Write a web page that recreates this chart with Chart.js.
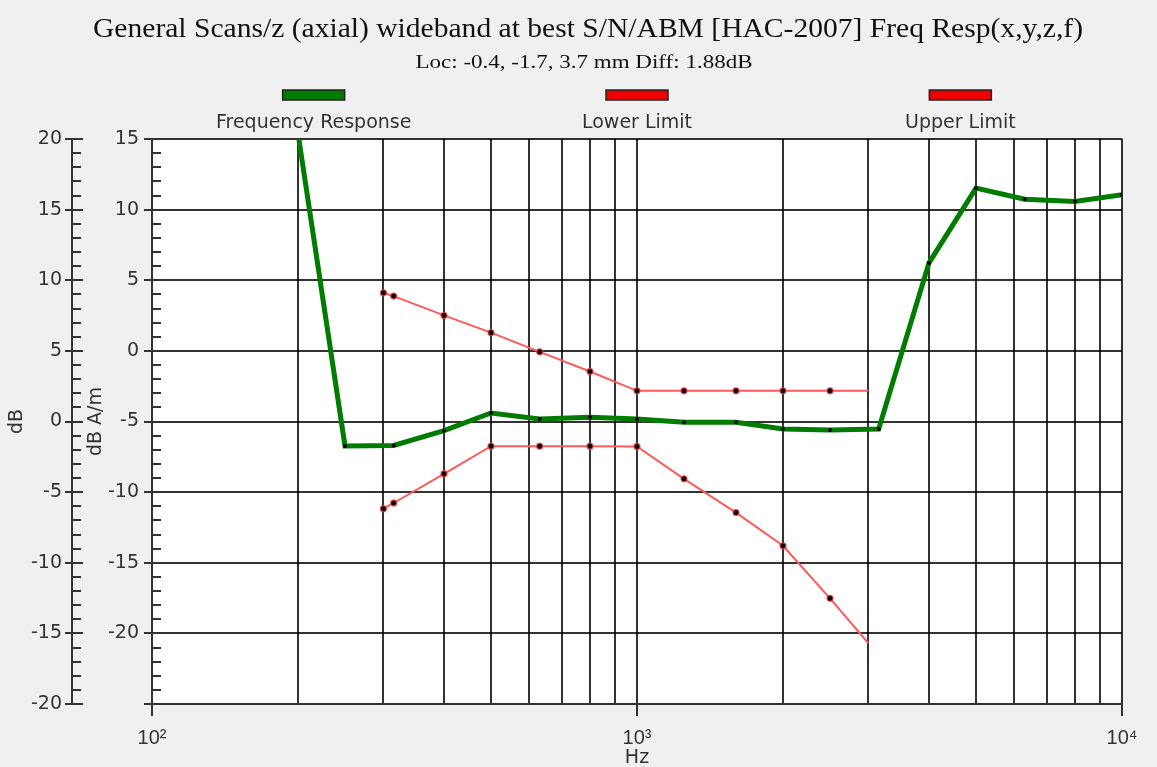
<!DOCTYPE html>
<html>
<head>
<meta charset="utf-8">
<script src="https://cdn.jsdelivr.net/npm/chart.js@4.4.1/dist/chart.umd.min.js"></script>
<style>
html,body{margin:0;padding:0;background:#f0f0f0;overflow:hidden;}
#wrap{width:1157px;height:767px;}
</style>
</head>
<body>
<div id="wrap"><canvas id="c" width="1157" height="767"></canvas></div>
<script>
// ---- data ----
const titleText = 'General Scans/z (axial) wideband at best S/N/ABM [HAC-2007] Freq Resp(x,y,z,f)';
const subtitleText = 'Loc: -0.4, -1.7, 3.7 mm Diff: 1.88dB';
const seriesNames = ['Frequency Response', 'Lower Limit', 'Upper Limit'];
const respFreq = [200, 250, 315, 400, 500, 630, 800, 1000, 1250, 1600, 2000, 2500, 3150, 4000, 5000, 6300, 8000, 10000];
const respDb   = [15.4, -6.73, -6.7, -5.65, -4.4, -4.82, -4.7, -4.82, -5.06, -5.06, -5.53, -5.6, -5.53, 6.23, 11.52, 10.74, 10.58, 11.05];
const limFreq  = [300, 315, 400, 500, 630, 800, 1000, 1250, 1600, 2000, 2500, 3000];
const lowerDb  = [-11.17, -10.77, -8.7, -6.75, -6.75, -6.75, -6.77, -9.06, -11.45, -13.8, -17.52, -20.7];
const upperDb  = [4.11, 3.88, 2.51, 1.29, -0.07, -1.46, -2.83, -2.83, -2.83, -2.83, -2.83, -2.83];
const xTickValues = [100, 200, 300, 400, 500, 600, 700, 800, 900, 1000, 2000, 3000, 4000, 5000, 6000, 7000, 8000, 9000, 10000];
const yInnerTicks = [-25, -20, -15, -10, -5, 0, 5, 10, 15];
const yOuterTicks = [-20, -15, -10, -5, 0, 5, 10, 15, 20];
const xAxisTitle = 'Hz';
const yInnerTitle = 'dB A/m';
const yOuterTitle = 'dB';

// ---- helpers ----
const SUP = {'0':'\u2070','1':'\u00B9','2':'\u00B2','3':'\u00B3','4':'\u2074','5':'\u2075','6':'\u2076','7':'\u2077','8':'\u2078','9':'\u2079'};
function isDecade(v){ const l = Math.log10(v); return Math.abs(l - Math.round(l)) < 1e-9; }
function decadeLabel(v){ const e = String(Math.round(Math.log10(v))); return '10' + e.split('').map(c=>SUP[c]).join(''); }
const AX = '#333333';
const GRID = 'rgba(0,0,0,0.8)';
const SANS = 'DejaVu Sans';
const SERIF = 'Liberation Serif';

Chart.defaults.font.family = SANS;
Chart.defaults.color = '#333';

const bgPlugin = {
  id: 'bgPlugin',
  beforeDraw(chart){
    const {ctx, chartArea:a} = chart;
    ctx.save(); ctx.fillStyle = '#ffffff';
    ctx.fillRect(a.left, a.top, a.right - a.left, a.bottom - a.top);
    ctx.restore();
  }
};

// heading text (title + subtitle), stretched horizontally like the source rendering
function drawStretched(ctx, text, font, cx, baseline, targetW){
  ctx.save();
  ctx.font = font;
  const w = ctx.measureText(text).width;
  const k = targetW / w;
  ctx.translate(cx, baseline);
  ctx.scale(k, 1);
  ctx.textAlign = 'center'; ctx.textBaseline = 'alphabetic';
  ctx.fillStyle = '#111';
  ctx.fillText(text, 0, 0);
  ctx.restore();
}
const heading = {
  id: 'heading',
  afterDraw(chart){
    const ctx = chart.ctx;
    drawStretched(ctx, titleText, '27px "' + SERIF + '"', 588, 37, 990);
    drawStretched(ctx, subtitleText, '19px "' + SERIF + '"', 584, 68, 337);
  }
};

const minorTicks = {
  id: 'minorTicks',
  afterDraw(chart){
    const ctx = chart.ctx;
    ctx.save(); ctx.strokeStyle = AX; ctx.lineWidth = 2;
    ['y','y2'].forEach(id => {
      const s = chart.scales[id];
      const x0 = s.right;
      for (let v = Math.ceil(s.min); v <= s.max; v++) {
        const major = (v % 5 === 0);
        if (major && id === 'y') continue;
        const p = Math.round(s.getPixelForValue(v));
        ctx.beginPath(); ctx.moveTo(x0, p); ctx.lineTo(x0 + (major ? 11 : 9), p); ctx.stroke();
      }
    });
    ctx.restore();
  }
};

const topLegend = {
  id: 'topLegend',
  afterDraw(chart){
    const {ctx, chartArea:a} = chart;
    const n = chart.data.datasets.length;
    const w = (a.right - a.left) / n;
    ctx.save();
    chart.data.datasets.forEach((ds, i) => {
      const cx = a.left + (i + 0.5) * w;
      const by = a.top - 49;
      ctx.fillStyle = ds.legendFill;
      ctx.fillRect(cx - 31, by, 62, 10);
      ctx.strokeStyle = '#222'; ctx.lineWidth = 1.5;
      ctx.strokeRect(cx - 31, by, 62, 10);
      ctx.fillStyle = '#333';
      ctx.font = '19px "' + SANS + '"';
      ctx.textAlign = 'center'; ctx.textBaseline = 'middle';
      ctx.fillText(ds.label, cx, a.top - 16);
    });
    ctx.restore();
  }
};

const toXY = (xs, ys) => xs.map((x, i) => ({x: x, y: ys[i]}));

new Chart(document.getElementById('c'), {
  type: 'line',
  data: {
    datasets: [
      {
        label: seriesNames[0],
        data: toXY(respFreq, respDb),
        borderColor: '#007d00', borderWidth: 5, legendFill: '#007d00',
        pointRadius: respFreq.map((f,i) => i === 0 ? 0 : 2),
        pointBackgroundColor: '#000', pointBorderWidth: 0,
        tension: 0, clip: 0, yAxisID: 'y', xAxisID: 'x', order: 1
      },
      {
        label: seriesNames[1],
        data: toXY(limFreq, lowerDb),
        borderColor: '#ff5a5a', borderWidth: 2, legendFill: '#ee0000',
        pointRadius: limFreq.map((f,i) => i === limFreq.length - 1 ? 0 : 3),
        pointBackgroundColor: '#000', pointBorderColor: 'rgba(255,60,60,0.75)', pointBorderWidth: 1.3,
        tension: 0, yAxisID: 'y', xAxisID: 'x', order: 0
      },
      {
        label: seriesNames[2],
        data: toXY(limFreq, upperDb),
        borderColor: '#ff5a5a', borderWidth: 2, legendFill: '#ee0000',
        pointRadius: limFreq.map((f,i) => i === limFreq.length - 1 ? 0 : 3),
        pointBackgroundColor: '#000', pointBorderColor: 'rgba(255,60,60,0.75)', pointBorderWidth: 1.3,
        tension: 0, yAxisID: 'y', xAxisID: 'x', order: 0
      }
    ]
  },
  options: {
    responsive: false,
    animation: false,
    events: [],
    layout: {padding: {left: 0, right: 35, top: 139, bottom: 0}},
    plugins: {
      legend: {display: false},
      tooltip: {enabled: false},
      title: {display: false},
      subtitle: {display: false}
    },
    scales: {
      x: {
        type: 'logarithmic', position: 'bottom', min: 100, max: 10000,
        afterBuildTicks: s => { s.ticks = xTickValues.map(v => ({value: v})); },
        afterFit: s => { s.height = 63; },
        grid: {color: GRID, lineWidth: 2, tickLength: 12,
               tickColor: c => (c.tick && isDecade(c.tick.value)) ? AX : 'rgba(0,0,0,0)'},
        border: {display: true, color: AX, width: 2},
        ticks: {autoSkip: false, maxRotation: 0, padding: 10, color: '#333',
                font: {family: 'Liberation Sans', size: 20},
                callback: v => isDecade(v) ? decadeLabel(v) : ''},
        title: {display: true, text: xAxisTitle, color: '#333', font: {family: SANS, size: 19},
                padding: {top: 0, bottom: -2}}
      },
      y: {
        type: 'linear', position: 'left', weight: 0, min: -25, max: 15,
        afterBuildTicks: s => { s.ticks = yInnerTicks.map(v => ({value: v})); },
        afterFit: s => { s.width = 80; },
        grid: {color: GRID, lineWidth: 2, tickLength: 8, tickColor: AX},
        border: {display: true, color: AX, width: 2},
        ticks: {padding: 5, color: '#333', font: {family: SANS, size: 19},
                callback: v => v === -25 ? '' : String(v)},
        title: {display: true, text: yInnerTitle, color: '#333', font: {family: SANS, size: 19},
                padding: {top: 13, bottom: 0}}
      },
      y2: {
        type: 'linear', position: 'left', weight: 1, min: -20, max: 20,
        afterBuildTicks: s => { s.ticks = yOuterTicks.map(v => ({value: v})); },
        afterFit: s => { s.width = 72; },
        grid: {drawOnChartArea: false, lineWidth: 2, tickLength: 7, tickColor: AX},
        border: {display: true, color: AX, width: 2},
        ticks: {padding: 3, color: '#333', font: {family: SANS, size: 19}},
        title: {display: true, text: yOuterTitle, color: '#333', font: {family: SANS, size: 19},
                padding: {top: 6, bottom: 0}}
      }
    }
  },
  plugins: [bgPlugin, minorTicks, topLegend, heading]
});
</script>
</body>
</html>
